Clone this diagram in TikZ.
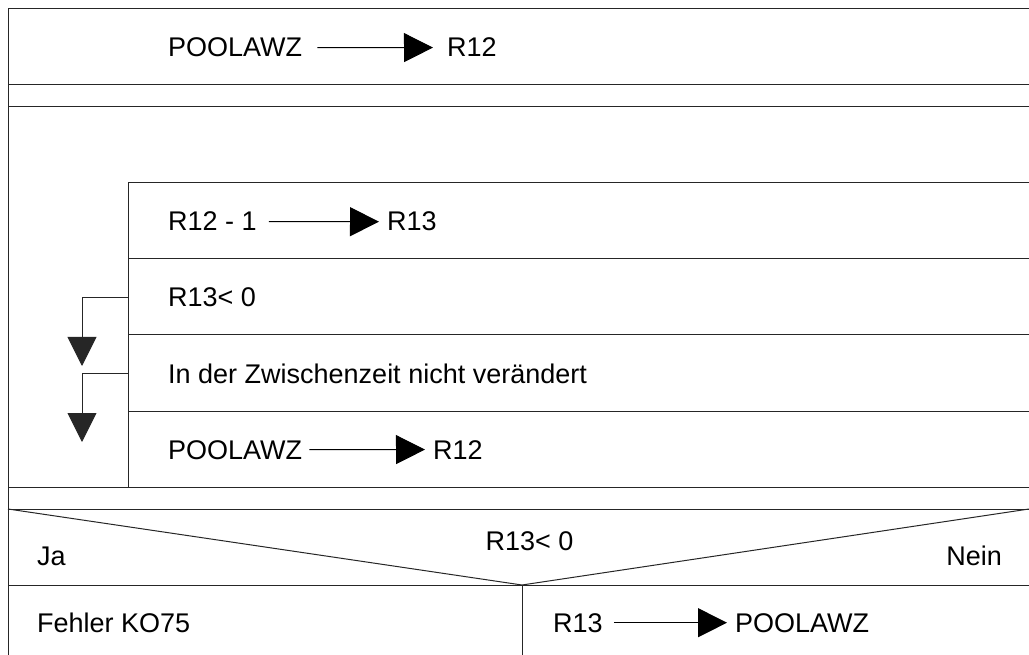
\documentclass[tikz,border=0pt]{standalone}
\usepackage{fontspec}
\setmainfont{Liberation Sans}
\usetikzlibrary{arrows.meta}
\begin{document}
\begin{tikzpicture}[x=1pt,y=-1pt,
  frame/.style={draw=black!85,line width=1pt},
  txt/.style={inner sep=0pt,anchor=base west,font=\fontsize{27}{32}\selectfont},
  arr/.style={draw=black,line width=1pt,-{Triangle[length=29pt,width=29pt]}}]
\useasboundingbox (0,0) rectangle (1029,655);
% frame lines
\draw[frame] (1029,9) -- (8,9) -- (8,655);
\draw[frame] (8,85) -- (1029,85);
\draw[frame] (8,107) -- (1029,107);
\draw[frame] (1029,183) -- (128,183) -- (128,487);
\draw[frame] (128,259) -- (1029,259);
\draw[frame] (128,335) -- (1029,335);
\draw[frame] (128,411) -- (1029,411);
\draw[frame] (8,487) -- (1029,487);
\draw[frame] (8,509) -- (1029,509);
\draw[frame] (8,585) -- (1029,585);
\draw[frame] (8,509) -- (522,585) -- (1029,509);
\draw[frame] (522,585) -- (522,655);
% texts
\node[txt] (t1) at (168,57) {POOLAWZ};
\node[txt] (t1b) at (447,57) {R12};
\node[txt] (a1) at (168,231) {R12 - 1};
\node[txt] (a1b) at (387,231) {R13};
\node[txt] (a2) at (168,307) {R13< 0};
\node[txt] (a3) at (168,383) {In der Zwischenzeit nicht verändert};
\node[txt] (a4) at (168,459) {POOLAWZ};
\node[txt] (a4b) at (433,459) {R12};
\node[txt,anchor=base] (d) at (529.5,550) {R13< 0};
\node[txt] (ja) at (37,565) {Ja};
\node[txt,anchor=base east] (nein) at (1002,565) {Nein};
\node[txt] (f) at (37,632) {Fehler KO75};
\node[txt] (r) at (553,632) {R13};
\node[txt] (rb) at (735,632) {POOLAWZ};
% assignment arrows
\draw[arr] ([xshift=15pt]t1.east) -- ([xshift=-14pt]t1b.west);
\draw[arr] ([xshift=12pt]a1.east) -- ([xshift=-8pt]a1b.west);
\draw[arr] ([xshift=7pt]a4.east) -- ([xshift=-8pt]a4b.west);
\draw[arr] ([xshift=11pt]r.east) -- ([xshift=-8pt]rb.west);
% loop exit arrows
\coordinate (e1) at (128,298);
\coordinate (e1t) at (82,366);
\coordinate (e2) at (128,373);
\coordinate (e2t) at (82,442);
\draw[arr,draw=black!85] (e1) -| (e1t);
\draw[arr,draw=black!85] (e2) -| (e2t);
\end{tikzpicture}
\end{document}
